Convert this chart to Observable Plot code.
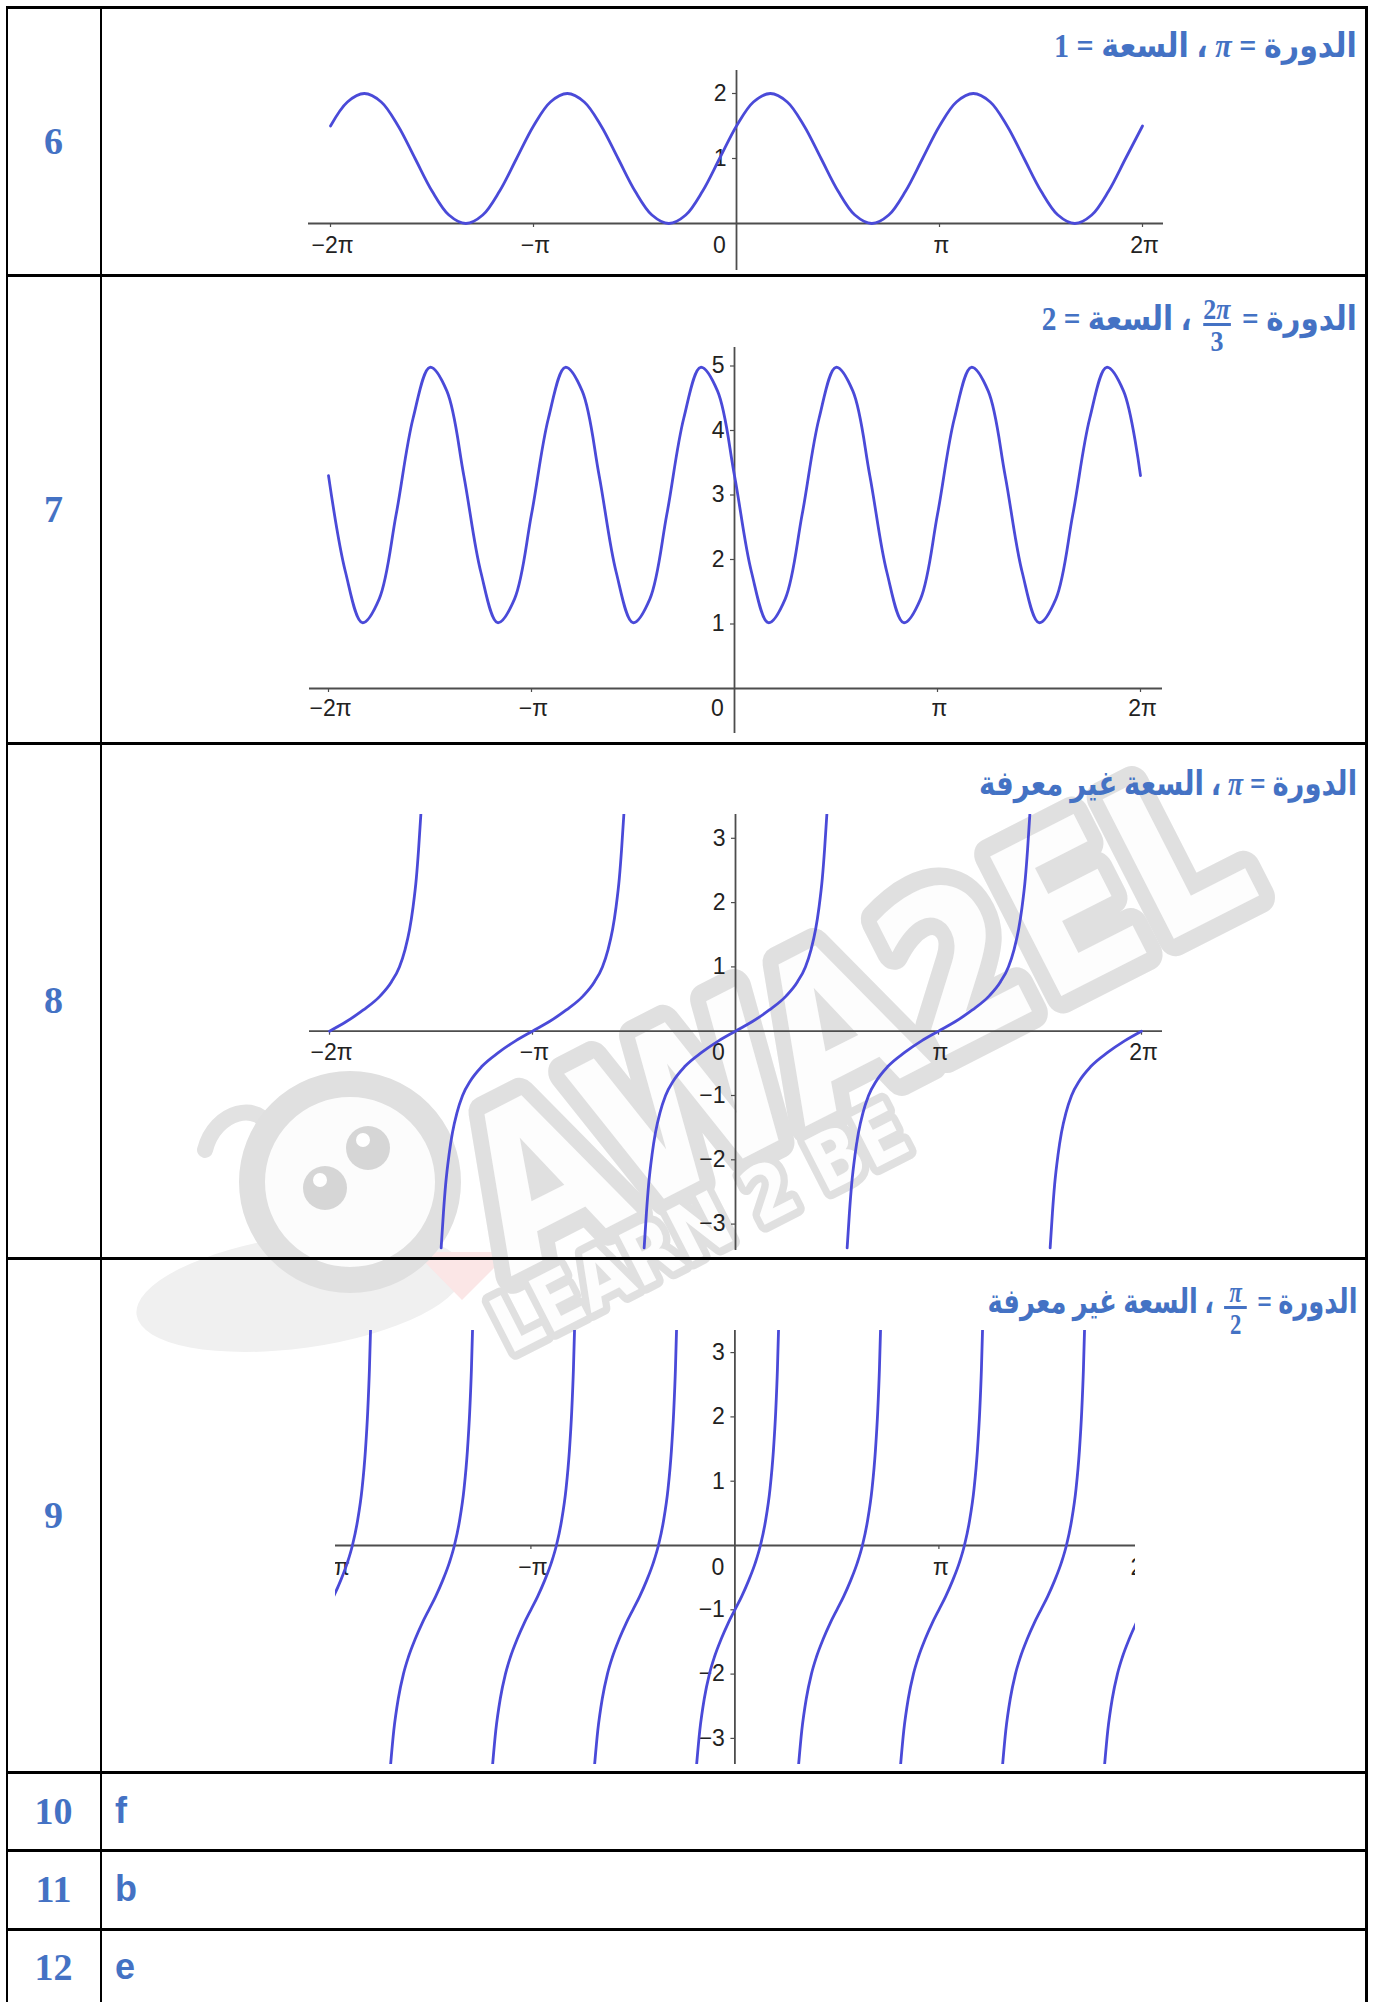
<!DOCTYPE html>
<html>
<head>
<meta charset="utf-8">
<script src="https://cdn.jsdelivr.net/npm/d3@7"></script>
<script src="https://cdn.jsdelivr.net/npm/@observablehq/plot@0.6"></script>
<style>
  body { margin: 0; background: #fff; }
  #page { position: relative; width: 1375px; height: 2002px; overflow: hidden; background: #fff; }
  .h, .v { position: absolute; background: #000; }
  .num { position: absolute; left: 6px; width: 95px; text-align: center; font: bold 38px 'Liberation Serif', serif; color: #4472C4; line-height: 38px; transform: translateY(-50%); }
  .let { position: absolute; left: 115px; font: bold 36px 'Liberation Sans', sans-serif; color: #4472C4; line-height: 36px; transform: translateY(-50%); }
  .ttl { position: absolute; right: 18px; direction: rtl; white-space: nowrap; font: bold 34px 'Liberation Serif', 'DejaVu Sans', serif; color: #4472C4; line-height: 40px; transform-origin: right center; }
  .ttl i { font-family: 'Liberation Serif', serif; font-style: italic; font-weight: bold; }
  .frac { display: inline-flex; flex-direction: column; align-items: center; vertical-align: 11px; font-size: 30px; line-height: 29px; margin: 0 5px; }
  .frac .n { direction: ltr; unicode-bidi: isolate; }
  .frac .bar { width: 100%; min-width: 30px; height: 3px; background: #4472C4; }
  .chart { position: absolute; }
  .chart svg { overflow: hidden; }
  #wm { position: absolute; left: 0; top: 0; }
</style>
</head>
<body>
<div id="page"></div>
<script>
// ---------- DATA ----------
// x values in degrees (π = 180), ticks at multiples of π
const xTicks = [-360, -180, 0, 180, 360];
const xTickLabels = ["−2π", "−π", "0", "π", "2π"];

// Row 6 : sinusoid, period π, between 0 and 2
const x6 = [-360,-345,-330,-315,-300,-285,-270,-255,-240,-225,-210,-195,
            -180,-165,-150,-135,-120,-105,-90,-75,-60,-45,-30,-15,
            0,15,30,45,60,75,90,105,120,135,150,165,
            180,195,210,225,240,255,270,285,300,315,330,345,360];
const y6 = [1.5,1.87,2,1.87,1.5,1,0.5,0.13,0,0.13,0.5,1,
            1.5,1.87,2,1.87,1.5,1,0.5,0.13,0,0.13,0.5,1,
            1.5,1.87,2,1.87,1.5,1,0.5,0.13,0,0.13,0.5,1,
            1.5,1.87,2,1.87,1.5,1,0.5,0.13,0,0.13,0.5,1,1.5];
const yTicks6 = [1, 2];

// Row 7 : sinusoid, period 2π/3, between 1 and 5
const x7 = [-360,-345,-330,-315,-300,-285,-270,-255,-240,-225,-210,-195,
            -180,-165,-150,-135,-120,-105,-90,-75,-60,-45,-30,-15,
            0,15,30,45,60,75,90,105,120,135,150,165,
            180,195,210,225,240,255,270,285,300,315,330,345,360];
const y7 = [3.3,1.81,1.02,1.39,2.7,4.19,4.98,4.61,
            3.3,1.81,1.02,1.39,2.7,4.19,4.98,4.61,
            3.3,1.81,1.02,1.39,2.7,4.19,4.98,4.61,
            3.3,1.81,1.02,1.39,2.7,4.19,4.98,4.61,
            3.3,1.81,1.02,1.39,2.7,4.19,4.98,4.61,
            3.3,1.81,1.02,1.39,2.7,4.19,4.98,4.61,3.3];
const yTicks7 = [1, 2, 3, 4, 5];

// Row 8 : tangent-like branches, period π (branch shape around each zero)
const centers8 = [-360, -180, 0, 180, 360];
const off8 = [-81,-79,-77,-74,-71,-67,-62,-55,-45,-30,-15,0,15,30,45,55,62,67,71,74,77,79,81];
const val8 = [-3.37,-2.83,-2.38,-1.92,-1.58,-1.27,-1.0,-0.77,-0.55,-0.33,-0.15,0,
              0.15,0.33,0.55,0.77,1.0,1.27,1.58,1.92,2.38,2.83,3.37];
const yTicks8 = [-3, -2, -1, 1, 2, 3];

// Row 9 : tangent-like branches, period π/2 (branch shape around the y = -1 points)
const centers9 = [-360, -270, -180, -90, 0, 90, 180, 270, 360];
const off9 = [-34,-31,-27,-22.5,-18,-12,-6,0,6,12,18,22.5,27,31,34,36,37.5,38.5];
const val9 = [-3.45,-2.88,-2.38,-2,-1.73,-1.45,-1.21,-1,-0.79,-0.55,-0.27,0,0.38,0.88,1.48,2.08,2.73,3.35];
const yTicks9 = [-3, -2, -1, 1, 2, 3];

// Table row labels
const rowNumbers = ["6", "7", "8", "9", "10", "11", "12"];
const answers = ["f", "b", "e"];

// ---------- LAYOUT ----------
const page = document.getElementById("page");
const BLUE = "#4a4ad8";
const AXIS = "#4d4d4d";

// Watermark (light grey logo behind the table content)
const NS = "http://www.w3.org/2000/svg";
const wm = document.createElementNS(NS, "svg");
wm.setAttribute("id", "wm");
wm.setAttribute("width", 1375);
wm.setAttribute("height", 2002);
wm.innerHTML = `
  <ellipse cx="300" cy="1292" rx="165" ry="56" transform="rotate(-8 300 1292)" fill="#f0f0f0"/>
  <path d="M415 1252 L462 1300 L510 1252 Z" fill="#fbe6e6"/>
  <path d="M205 1150 C 215 1110, 260 1100, 270 1130" fill="none" stroke="#e2e2e2" stroke-width="16" stroke-linecap="round"/>
  <circle cx="350" cy="1182" r="98" fill="#fcfcfc" stroke="#e0e0e0" stroke-width="26"/>
  <circle cx="325" cy="1188" r="22" fill="#d6d6d6"/><circle cx="320" cy="1180" r="7" fill="#fff"/>
  <circle cx="368" cy="1148" r="22" fill="#d6d6d6"/><circle cx="363" cy="1140" r="7" fill="#fff"/>
  <g transform="translate(887 1085) rotate(-27)">
    <text x="0" y="0" text-anchor="middle" font-family="'DejaVu Sans', sans-serif" font-weight="bold" font-size="215" textLength="845" lengthAdjust="spacingAndGlyphs" fill="#fdfdfd" stroke="#e0e0e0" stroke-width="36" stroke-linejoin="round" paint-order="stroke">AWA2EL</text>
    <text x="-232" y="69" text-anchor="middle" font-family="'DejaVu Sans', sans-serif" font-weight="bold" font-size="78" textLength="454" lengthAdjust="spacingAndGlyphs" fill="#fdfdfd" stroke="#e0e0e0" stroke-width="16" stroke-linejoin="round" paint-order="stroke">LEARN 2 BE</text>
  </g>`;
page.appendChild(wm);

const hLines = [6, 274, 742, 1257, 1771, 1849, 1928];
const vLines = [5.5, 99.6, 1365];
hLines.forEach(y => { const d = document.createElement("div"); d.className = "h"; Object.assign(d.style, {left: "5.5px", top: y + "px", width: "1362px", height: "2.5px"}); page.appendChild(d); });
vLines.forEach(x => { const d = document.createElement("div"); d.className = "v"; Object.assign(d.style, {left: x + "px", top: "6px", width: "2.5px", height: "1996px"}); page.appendChild(d); });

const rowCenters = [141, 509, 1000, 1515, 1811, 1889, 1967];
rowNumbers.forEach((t, i) => { const d = document.createElement("div"); d.className = "num"; d.style.top = rowCenters[i] + "px"; d.textContent = t; page.appendChild(d); });
answers.forEach((t, i) => { const d = document.createElement("div"); d.className = "let"; d.style.top = rowCenters[4 + i] + "px"; d.textContent = t; page.appendChild(d); });

// Titles (Arabic, RTL)
const titles = [
  {top: 26, w: 303, html: 'الدورة = <i>π</i> ، السعة = 1'},
  {top: 294, w: 315, html: 'الدورة = <span class="frac"><span class="n">2<i>π</i></span><span class="bar"></span><span>3</span></span> ، السعة = 2'},
  {top: 764, w: 378, html: 'الدورة = <i>π</i> ، السعة غير معرفة'},
  {top: 1277, w: 370, html: 'الدورة = <span class="frac"><span class="n"><i>π</i></span><span class="bar"></span><span>2</span></span> ، السعة غير معرفة'}
];
const titleEls = titles.map(t => { const d = document.createElement("div"); d.className = "ttl"; d.style.top = t.top + "px"; d.innerHTML = t.html; page.appendChild(d); return d; });
function fitTitles() {
  titleEls.forEach((el, i) => {
    el.style.transform = "none";
    const w = el.getBoundingClientRect().width;
    if (w > 0) el.style.transform = `scaleX(${titles[i].w / w})`;
  });
}
fitTitles();
if (document.fonts && document.fonts.ready) document.fonts.ready.then(fitTitles);

// ---------- CHARTS ----------
function chart(cfg, lineData, yTicks, curve) {
  const {left, top, width, height, ox, oy, ppi, pu, xAxis, labelDy, zeroDx} = cfg;
  const degPerPx = 180 / ppi;
  const toDeg = px => (px - ox) * degPerPx;
  const toY = py => (oy - py) / pu;
  const nonZeroX = xTicks.filter(d => d !== 0);
  const svg = Plot.plot({
    width, height,
    margin: 0,
    style: {background: "transparent", overflow: "hidden", fontFamily: "'Liberation Sans', Arial, sans-serif", fontSize: "23px", color: "#222"},
    x: {domain: [-360, 360], range: [ox - 2 * ppi - left, ox + 2 * ppi - left], axis: null},
    y: {domain: [0, 1], range: [oy - top, oy - pu - top], axis: null},
    marks: [
      Plot.ruleY([0], {x1: toDeg(xAxis[0]), x2: toDeg(xAxis[1]), stroke: AXIS, strokeWidth: 1.8}),
      Plot.ruleX([0], {y1: toY(top + height), y2: toY(top), stroke: AXIS, strokeWidth: 1.8}),
      Plot.ruleX(nonZeroX, {x: d => d, y1: 0, y2: -4 / pu, stroke: AXIS, strokeWidth: 1.2}),
      Plot.ruleY(yTicks, {y: d => d, x1: 0, x2: -4 * degPerPx, stroke: AXIS, strokeWidth: 1.2}),
      Plot.text(nonZeroX, {x: d => d, y: 0, text: d => xTickLabels[xTicks.indexOf(d)], dy: labelDy, dx: 2, fill: "#222"}),
      Plot.text(["0"], {x: 0, y: 0, text: d => d, dx: zeroDx, dy: labelDy, fill: "#222"}),
      Plot.text(yTicks, {x: 0, y: d => d, text: d => d < 0 ? "−" + Math.abs(d) : String(d), dx: -10, textAnchor: "end", fill: "#222"}),
      Plot.line(lineData, {x: "x", y: "y", z: "b", curve, stroke: BLUE, strokeWidth: 2.8})
    ]
  });
  const holder = document.createElement("div");
  holder.className = "chart";
  Object.assign(holder.style, {left: left + "px", top: top + "px", width: width + "px", height: height + "px"});
  holder.appendChild(svg);
  page.appendChild(holder);
}

const data6 = x6.map((x, i) => ({x, y: y6[i], b: 0}));
const data7 = x7.map((x, i) => ({x, y: y7[i], b: 0}));
const data8 = centers8.flatMap((c, b) => off8.map((o, i) => ({x: c + o, y: val8[i], b}))).filter(d => d.x >= -360 && d.x <= 360);
const data9 = centers9.flatMap((c, b) => off9.map((o, i) => ({x: c + o, y: val9[i], b})));

chart({left: 290, top: 70, width: 900, height: 200, ox: 736, oy: 223, ppi: 203, pu: 65, xAxis: [308, 1163], labelDy: 22, zeroDx: -17}, data6, yTicks6, "catmull-rom");
chart({left: 290, top: 347, width: 900, height: 386, ox: 734, oy: 688, ppi: 203, pu: 64.5, xAxis: [309, 1162], labelDy: 20, zeroDx: -17}, data7, yTicks7, "catmull-rom");
chart({left: 290, top: 814, width: 900, height: 436, ox: 735, oy: 1030.7, ppi: 203, pu: 64.3, xAxis: [309, 1162], labelDy: 21, zeroDx: -17}, data8, yTicks8, "monotone-x");
chart({left: 335, top: 1330, width: 800, height: 434, ox: 734.4, oy: 1545, ppi: 204, pu: 64.3, xAxis: [300, 1170], labelDy: 22, zeroDx: -17}, data9, yTicks9, "monotone-x");
</script>
</body>
</html>
